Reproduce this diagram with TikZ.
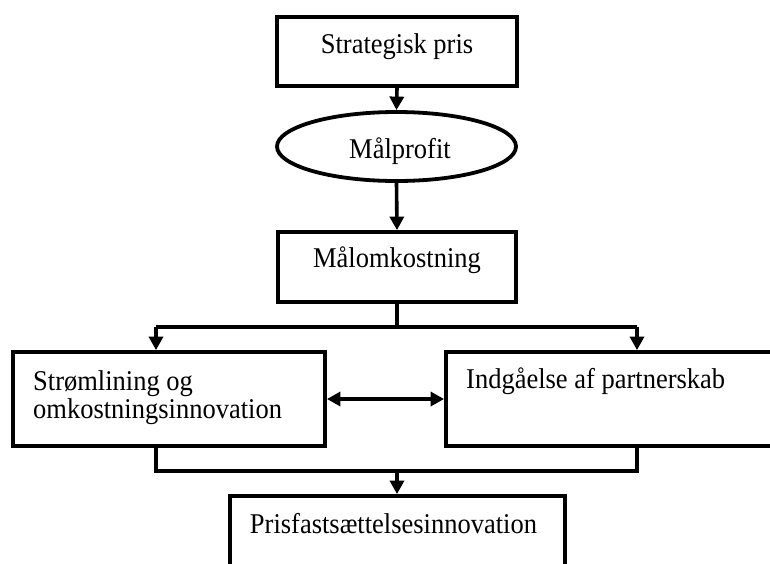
\documentclass[tikz,border=0pt]{standalone}
\usepackage{fontspec}
\usepackage{graphicx}
\setmainfont{Liberation Serif}
\usetikzlibrary{shapes.geometric,arrows.meta}

% labels are set slightly taller than the font's natural shape
\newcommand{\tallword}[1]{\scalebox{1}[1.08]{#1}}

\tikzset{
  boxshape/.style={draw=black, line width=3.8pt, rectangle, inner sep=0pt},
  ovalshape/.style={draw=black, line width=3.8pt, ellipse, inner sep=0pt},
  label text/.style={inner sep=0pt, font=\fontsize{26.5}{30}\selectfont},
  link/.style={draw=black, line width=3.6pt},
  arr/.style={link, -{Triangle[length=13.5pt,width=14pt]}},
  biarr/.style={link, {Triangle[length=13.5pt,width=14pt]}-{Triangle[length=13.5pt,width=14pt]}},
}

\begin{document}
\begin{tikzpicture}[x=1pt,y=-1pt]
  \fill[white] (0,0) rectangle (770,563);
  \clip (0,0) rectangle (770,563);

  % boxes and the oval
  \node[boxshape, minimum width=240pt, minimum height=69pt] (strat) at (397,51.5) {};
  \node[ovalshape, minimum width=239pt, minimum height=69pt] (profit) at (396.5,146.5) {};
  \node[boxshape, minimum width=238pt, minimum height=70pt] (cost) at (397,267) {};
  \node[boxshape, minimum width=312pt, minimum height=94pt] (lean) at (169,399) {};
  \node[boxshape, minimum width=354pt, minimum height=94pt] (partner) at (623,399) {};
  \node[boxshape, minimum width=335pt, minimum height=104pt] (pricing) at (397.5,548) {};

  % texts
  \node[label text, anchor=base] (tstrat) at (397,53) {\tallword{Strategisk pris}};
  \node[label text, anchor=base] (tprofit) at (400,158) {\tallword{Målprofit}};
  \node[label text, anchor=base] (tcost) at (397,267) {\tallword{Målomkostning}};
  \node[label text, anchor=base west] (tlean1) at (33,390) {\tallword{Strømlining og}};
  \node[label text, anchor=base west] (tlean2) at (33,418) {\tallword{omkostningsinnovation}};
  \node[label text, anchor=base west] (tpartner) at (466,388) {\tallword{Indgåelse af partnerskab}};
  \node[label text, anchor=base] (tpricing) at (393.5,533) {\tallword{Prisfastsættelsesinnovation}};

  % junction points
  \coordinate (split) at (397,327);
  \coordinate (splitL) at (156,327);
  \coordinate (splitR) at (637,327);
  \coordinate (join) at (397,471);
  \coordinate (joinL) at (156,471);
  \coordinate (joinR) at (637,471);

  % connectors
  \draw[arr] (strat.south) -- (profit.north);
  \draw[arr] (profit.south) -- (cost.north);
  \draw[link] (cost.south) -- (split);
  \draw[link] (splitL) -- (splitR);
  \draw[arr] (splitL) -- (splitL |- lean.north);
  \draw[arr] (splitR) -- (splitR |- partner.north);
  \draw[biarr] (lean.east) -- (partner.west);
  \draw[link, line join=miter] (joinL |- lean.south) -- (joinL) -- (joinR) -- (joinR |- partner.south);
  \draw[arr] (join) -- (join |- pricing.north);
\end{tikzpicture}
\end{document}
